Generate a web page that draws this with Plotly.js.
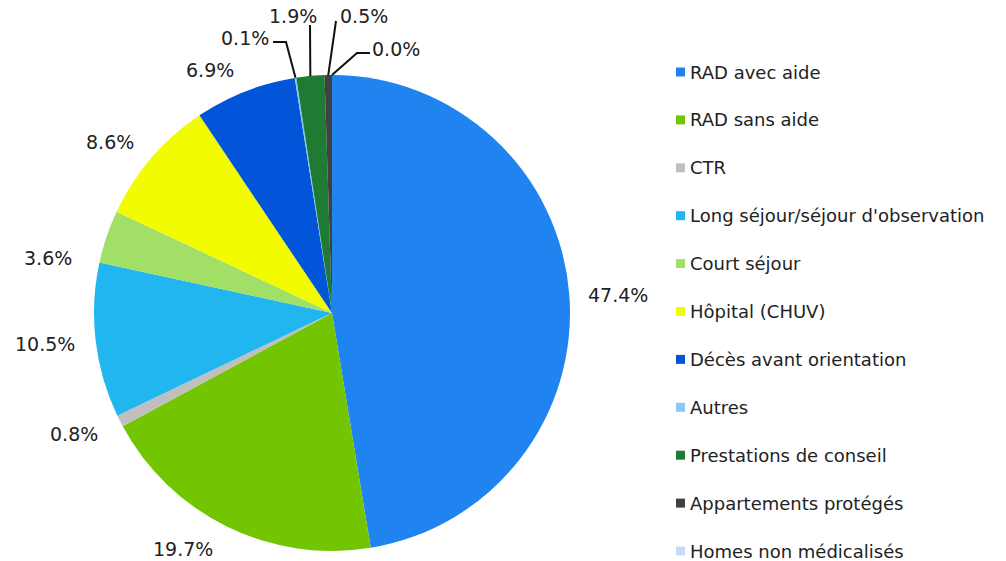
<!DOCTYPE html>
<html>
<head>
<meta charset="utf-8">
<script src="https://cdn.plot.ly/plotly-3.0.1.min.js"></script>
<style>html,body{margin:0;padding:0;background:#fff;}#chart{width:1006px;height:561px;}</style>
</head>
<body>
<div id="chart"></div>
<script>
// ---- data ----
var categories = ["RAD avec aide", "RAD sans aide", "CTR", "Long séjour/séjour d'observation",
  "Court séjour", "Hôpital (CHUV)", "Décès avant orientation", "Autres",
  "Prestations de conseil", "Appartements protégés", "Homes non médicalisés"];
var shares = [47.4, 19.7, 0.8, 10.5, 3.6, 8.6, 6.9, 0.1, 1.9, 0.5, 0.0];
var colors = ["#1F83F0", "#72C500", "#BFBFBF", "#22B6F0", "#A2DF66", "#F3FB00",
  "#0255D8", "#8BC8F2", "#1F7A33", "#404040", "#C9D9F8"];

// ---- layout constants (pixels) ----
var W = 1006, H = 561;
var CX = 332, CY = 313, R = 238;
var FONT = "DejaVu Sans", TXT = "#222";
// label centre positions (px) for each slice label
var labelPos = [[618, 295], [183, 549], [74, 434], [45, 344], [48, 258], [110, 142],
  [210, 70], [245, 38], [293, 16], [364, 16], [396, 49]];
// leader line intermediate points (px) for small slices (null = no leader)
var leaders = [null, null, null, null, null, null, null,
  [[286, 42], [273, 42]], [[310, 25]], [[336, 21]], [[357, 53], [370, 53]]];
var legendX = 676, legendY0 = 72, legendStep = 47.9, sq = 9;

function px(x) { return x / W; }
function py(y) { return 1 - y / H; }

var total = shares.reduce(function (a, b) { return a + b; }, 0);

var trace = {
  type: "pie",
  labels: categories,
  values: shares,
  marker: { colors: colors, line: { width: 0 } },
  sort: false,
  direction: "clockwise",
  rotation: 0,
  textinfo: "none",
  hoverinfo: "label+percent",
  showlegend: false,
  domain: { x: [px(CX - R), px(CX + R)], y: [py(CY + R), py(CY - R)] }
};

var annotations = [];
var shapes = [];
var cum = 0;
shares.forEach(function (v, i) {
  var mid = (cum + v / 2) / total * 2 * Math.PI;
  cum += v;
  var lp = labelPos[i];
  annotations.push({
    xref: "paper", yref: "paper", x: px(lp[0]), y: py(lp[1]),
    xanchor: "center", yanchor: "middle", showarrow: false,
    text: v.toFixed(1) + "%", font: { family: FONT, size: 19, color: TXT }
  });
  if (leaders[i]) {
    var sx = CX + R * Math.sin(mid), sy = CY - R * Math.cos(mid);
    var path = "M" + px(sx) + "," + py(sy);
    leaders[i].forEach(function (p) { path += " L" + px(p[0]) + "," + py(p[1]); });
    shapes.push({ type: "path", xref: "paper", yref: "paper", path: path,
      line: { color: "#111", width: 2 } });
  }
  // legend entry
  var ly = legendY0 + i * legendStep;
  shapes.push({ type: "rect", xref: "paper", yref: "paper",
    x0: px(legendX), x1: px(legendX + sq), y0: py(ly + sq / 2), y1: py(ly - sq / 2),
    fillcolor: colors[i], line: { width: 0 } });
  annotations.push({
    xref: "paper", yref: "paper", x: px(legendX + sq + 3), y: py(ly),
    xanchor: "left", yanchor: "middle", showarrow: false,
    text: categories[i], font: { family: FONT, size: 18, color: TXT }
  });
});

var layout = {
  width: W, height: H,
  margin: { l: 0, r: 0, t: 0, b: 0 },
  paper_bgcolor: "#fff",
  showlegend: false,
  annotations: annotations,
  shapes: shapes
};

Plotly.newPlot("chart", [trace], layout, { displayModeBar: false, staticPlot: true });
</script>
</body>
</html>
